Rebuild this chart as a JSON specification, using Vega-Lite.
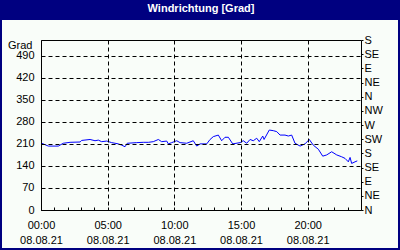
{
  "$schema": "https://vega.github.io/schema/vega-lite/v6.json",
  "width": 320,
  "height": 170,
  "autosize": {"type": "none"},
  "padding": {"left": 41, "top": 40, "right": 39, "bottom": 40},
  "background": "#000080",
  "title": {"text": "Windrichtung [Grad]", "color": "white", "font": "Liberation Sans", "fontSize": 11, "fontWeight": "bold", "frame": "group", "anchor": "middle", "baseline": "middle", "offset": 0},
  "config": {
    "view": {"stroke": null, "fill": null},
    "axis": {"labelFont": "Liberation Sans Narrow, Liberation Sans", "labelFontSize": 11, "labelColor": "black", "domainColor": "black", "tickColor": "black", "titleFont": "Liberation Sans Narrow, Liberation Sans", "titleFontSize": 11, "titleFontWeight": "normal", "titleColor": "black"}
  },
  "data": {"values": [
    {"h": 0.05, "deg": 212}, {"h": 0.55, "deg": 203}, {"h": 1.3, "deg": 203}, {"h": 1.67, "deg": 212},
    {"h": 2.18, "deg": 215}, {"h": 2.93, "deg": 216}, {"h": 3.05, "deg": 221}, {"h": 3.68, "deg": 224},
    {"h": 4.05, "deg": 220}, {"h": 4.3, "deg": 222}, {"h": 4.55, "deg": 217}, {"h": 4.93, "deg": 219},
    {"h": 5.3, "deg": 214}, {"h": 5.8, "deg": 210}, {"h": 6.05, "deg": 206}, {"h": 6.3, "deg": 201},
    {"h": 6.47, "deg": 212}, {"h": 7.18, "deg": 214}, {"h": 7.67, "deg": 215}, {"h": 8.05, "deg": 215},
    {"h": 8.42, "deg": 217}, {"h": 8.8, "deg": 224}, {"h": 9.05, "deg": 217}, {"h": 9.43, "deg": 219},
    {"h": 9.55, "deg": 210}, {"h": 9.8, "deg": 214}, {"h": 10.18, "deg": 220}, {"h": 10.43, "deg": 214},
    {"h": 10.93, "deg": 212}, {"h": 11.42, "deg": 220}, {"h": 11.68, "deg": 203}, {"h": 11.93, "deg": 210},
    {"h": 12.43, "deg": 210}, {"h": 12.68, "deg": 224}, {"h": 12.92, "deg": 233}, {"h": 13.3, "deg": 238},
    {"h": 13.55, "deg": 220}, {"h": 13.8, "deg": 231}, {"h": 14.05, "deg": 231}, {"h": 14.38, "deg": 210},
    {"h": 14.93, "deg": 214}, {"h": 15.17, "deg": 220}, {"h": 15.43, "deg": 212}, {"h": 15.68, "deg": 224},
    {"h": 15.92, "deg": 220}, {"h": 16.18, "deg": 228}, {"h": 16.37, "deg": 217}, {"h": 16.63, "deg": 235},
    {"h": 16.73, "deg": 224}, {"h": 17.12, "deg": 254}, {"h": 17.42, "deg": 252}, {"h": 17.68, "deg": 249},
    {"h": 17.93, "deg": 238}, {"h": 18.3, "deg": 238}, {"h": 18.55, "deg": 235}, {"h": 18.8, "deg": 238},
    {"h": 19.05, "deg": 212}, {"h": 19.43, "deg": 203}, {"h": 19.8, "deg": 210}, {"h": 20.12, "deg": 224},
    {"h": 20.42, "deg": 206}, {"h": 20.8, "deg": 193}, {"h": 21.13, "deg": 171}, {"h": 21.43, "deg": 175},
    {"h": 21.8, "deg": 185}, {"h": 22.18, "deg": 175}, {"h": 22.55, "deg": 169}, {"h": 22.8, "deg": 164},
    {"h": 23.05, "deg": 153}, {"h": 23.18, "deg": 167}, {"h": 23.3, "deg": 148}, {"h": 23.55, "deg": 153},
    {"h": 23.72, "deg": 156}
  ]},
  "layer": [
    {
      "mark": {"type": "rect", "fill": "#f9fdf9", "clip": false},
      "encoding": {
        "x": {"datum": -2.925, "type": "quantitative", "scale": {"domain": [0, 24], "nice": false, "zero": false},
          "axis": {"orient": "top", "labels": false, "ticks": false, "grid": false, "domain": true, "title": null, "zindex": 1}},
        "x2": {"datum": 26.775},
        "y": {"datum": 603.5, "type": "quantitative", "scale": {"domain": [0, 540], "nice": false}, "axis": null},
        "y2": {"datum": -120.7}
      }
    },
    {
      "mark": {"type": "line", "color": "#0000ff", "strokeWidth": 1},
      "encoding": {
        "x": {"field": "h", "type": "quantitative", "scale": {"domain": [0, 24], "nice": false, "zero": false},
          "axis": {"zindex": 1, "values": [0, 5, 10, 15, 20], "labelExpr": "[(datum.value < 10 ? '0' : '') + datum.value + ':00', '08.08.21']", "labelFlush": false, "labelOverlap": false, "labelBaseline": "top", "labelLineHeight": 15, "labelPadding": 9, "ticks": false, "grid": true, "gridColor": "black", "gridDash": [4, 3], "gridOpacity": 1, "title": null}},
        "y": {"field": "deg", "type": "quantitative", "scale": {"domain": [0, 540], "nice": false},
          "axis": {"zindex": 1, "values": [0, 70, 140, 210, 280, 350, 420, 490], "ticks": false, "labelPadding": 7, "grid": true, "gridColor": "black", "gridDash": [4, 3], "gridOpacity": 1, "title": "Grad", "titleAngle": 0, "titleAlign": "right", "titleBaseline": "middle", "titleX": -9, "titleY": 5}}
      }
    },
    {
      "mark": {"type": "line", "strokeOpacity": 0},
      "encoding": {
        "x": {"field": "h", "type": "quantitative", "scale": {"domain": [0, 24], "nice": false, "zero": false},
          "axis": {"zindex": 1, "values": [0, 1, 2, 3, 4, 5, 6, 7, 8, 9, 10, 11, 12, 13, 14, 15, 16, 17, 18, 19, 20, 21, 22, 23, 24], "labels": false, "ticks": true, "tickSize": -3, "domain": false, "grid": false, "title": null}},
        "y": {"field": "deg", "type": "quantitative", "scale": {"domain": [0, 540], "nice": false},
          "axis": {"zindex": 1, "orient": "right", "values": [0, 45, 90, 135, 180, 225, 270, 315, 360, 405, 450, 495, 540], "labelExpr": "['N','NE','E','SE','S','SW','W','NW'][(datum.value / 45) % 8]", "tickSize": 2, "labelPadding": 1, "labelAlign": "left", "grid": false, "title": null}}
      }
    }
  ],
  "resolve": {"axis": {"x": "independent", "y": "independent"}}
}
